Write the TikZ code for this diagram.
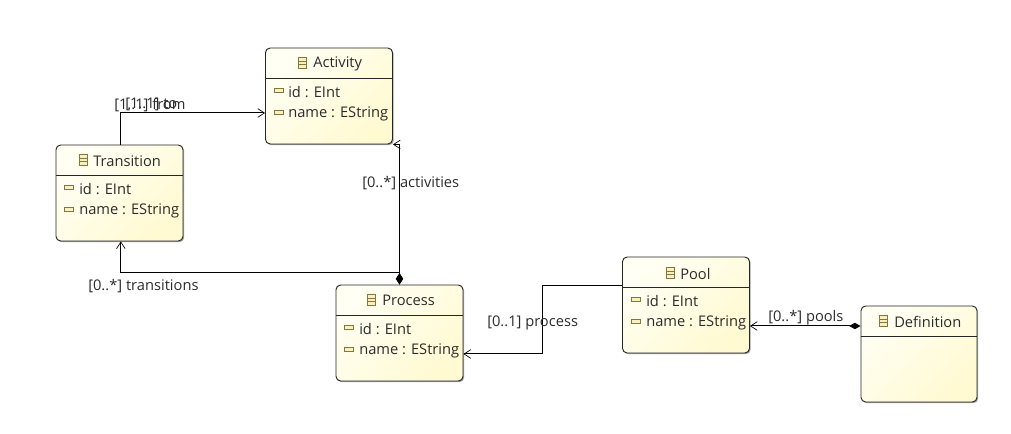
\documentclass[tikz,border=0pt]{standalone}
\usepackage{fontspec}
\setmainfont{Open Sans}
\usetikzlibrary{shapes, arrows.meta, shadows}
\definecolor{wlight}{HTML}{FFFFF4}
\definecolor{wdark}{HTML}{FFFAD2}
\definecolor{wtan}{HTML}{85763A}
\definecolor{wfieldfill}{HTML}{F7F0C0}
\definecolor{wtext}{HTML}{2B2B2B}
\tikzstyle{wclass} = [rectangle, draw=black!85, line width=0.7pt, rounded corners=3.5pt, minimum height=72pt, top color=wlight, bottom color=wdark, shading angle=45, drop shadow={shadow xshift=0.9pt, shadow yshift=-0.9pt, opacity=0.35, fill=black}]
\tikzstyle{wtitle} = [anchor=west, inner sep=0pt, yshift=-0.6pt, text=wtext, font=\fontsize{11}{13}\selectfont]
\tikzstyle{wattr} = [wtitle]
\tikzstyle{wlabel} = [wtitle]
\tikzstyle{wicon} = [rectangle, draw=wtan, fill=wfieldfill, line width=0.5pt, minimum width=6pt, minimum height=8pt, inner sep=0pt, path picture={
	\draw [wtan, line width=0.5pt] ([yshift=1.3pt]path picture bounding box.west) -- ([yshift=1.3pt]path picture bounding box.east);
	\draw [wtan, line width=0.5pt] ([yshift=-1.3pt]path picture bounding box.west) -- ([yshift=-1.3pt]path picture bounding box.east);}]
\tikzstyle{wfield} = [rectangle, draw=wtan, fill=wfieldfill, line width=0.5pt, minimum width=6.5pt, minimum height=3pt, inner sep=0pt]
\tikzstyle{rule} = [draw=black!85, line width=0.6pt]
\tikzstyle{line} = [draw=black, line width=0.75pt]
\tikzstyle{assoc} = [line, -{Straight Barb[length=5pt, width=6.5pt, line width=0.5pt]}]
\tikzstyle{comp} = [assoc, {Diamond[length=8.5pt, width=4.8pt]}-{Straight Barb[length=5pt, width=6.5pt, line width=0.5pt]}]
\tikzstyle{compv} = [assoc, {Diamond[length=8.5pt, width=5.4pt]}-{Straight Barb[length=5pt, width=6.5pt, line width=0.5pt]}]

\begin{document}
\begin{tikzpicture}[x=0.75pt, y=-0.75pt]
	\useasboundingbox (0,0) rectangle (1011,434);

	\node [wclass, minimum width=95.25pt] (Activity) at (329,96) {};
	\node [wclass, minimum width=95.25pt] (Transition) at (119.5,193) {};
	\node [wclass, minimum width=95.25pt] (Process) at (399.5,333) {};
	\node [wclass, minimum width=95.25pt] (Pool) at (686,305) {};
	\node [wclass, minimum width=87pt] (Definition) at (919,354) {};

	\path [rule] ([yshift=13.5pt]Activity.west) -- ([yshift=13.5pt]Activity.east);
	\path [rule] ([yshift=13.5pt]Transition.west) -- ([yshift=13.5pt]Transition.east);
	\path [rule] ([yshift=13.5pt]Process.west) -- ([yshift=13.5pt]Process.east);
	\path [rule] ([yshift=13.5pt]Pool.west) -- ([yshift=13.5pt]Pool.east);
	\path [rule] ([yshift=13.5pt]Definition.west) -- ([yshift=13.5pt]Definition.east);

	\node [wicon] (ActivityI) at (302,63) {};
	\node [wtitle] (ActivityT) at (313,63) {Activity};
	\node [wfield] (ActivityF1) at (279,90) {};
	\node [wattr] (ActivityA1) at (288,91) {id : EInt};
	\node [wfield] (ActivityF2) at (279,112) {};
	\node [wattr] (ActivityA2) at (288,113) {name : EString};

	\node [wicon] (TransitionI) at (83,160) {};
	\node [wtitle] (TransitionT) at (93,160) {Transition};
	\node [wfield] (TransitionF1) at (69,187) {};
	\node [wattr] (TransitionA1) at (79,188) {id : EInt};
	\node [wfield] (TransitionF2) at (69,209) {};
	\node [wattr] (TransitionA2) at (79,210) {name : EString};

	\node [wicon] (ProcessI) at (371,300) {};
	\node [wtitle] (ProcessT) at (382,300) {Process};
	\node [wfield] (ProcessF1) at (349,327) {};
	\node [wattr] (ProcessA1) at (359,328) {id : EInt};
	\node [wfield] (ProcessF2) at (349,349) {};
	\node [wattr] (ProcessA2) at (359,350) {name : EString};

	\node [wicon] (PoolI) at (670,273) {};
	\node [wtitle] (PoolT) at (680,273) {Pool};
	\node [wfield] (PoolF1) at (636,299) {};
	\node [wattr] (PoolA1) at (646,300) {id : EInt};
	\node [wfield] (PoolF2) at (636,321) {};
	\node [wattr] (PoolA2) at (646,322) {name : EString};

	\node [wicon] (DefinitionI) at (883,321) {};
	\node [wtitle] (DefinitionT) at (894,321) {Definition};

	\path [assoc] ([xshift=1pt]Transition.north) |- ([yshift=-12.75pt]Activity.west);
	\path [compv] (Process.north) |- (Activity.south east);
	\path [compv] (Process.north) -- ++(0,-12) -| ([xshift=1pt]Transition.south);
	\path [assoc] ([yshift=14.6pt]Pool.west) -- ++(-80,0) |- ([yshift=-15.75pt]Process.east);
	\path [comp] ([yshift=21pt]Definition.west) -- ([yshift=-15.75pt]Pool.east);

	\node [wlabel] (from) at (114,104) {[1..1] from};
	\node [wlabel] (to) at (125,104) {[1..1] to};
	\node [wlabel] (activities) at (362,182) {[0..*] activities};
	\node [wlabel] (transitions) at (88,285) {[0..*] transitions};
	\node [wlabel] (process) at (487,322) {[0..1] process};
	\node [wlabel] (pools) at (768,317) {[0..*] pools};
\end{tikzpicture}
\end{document}
